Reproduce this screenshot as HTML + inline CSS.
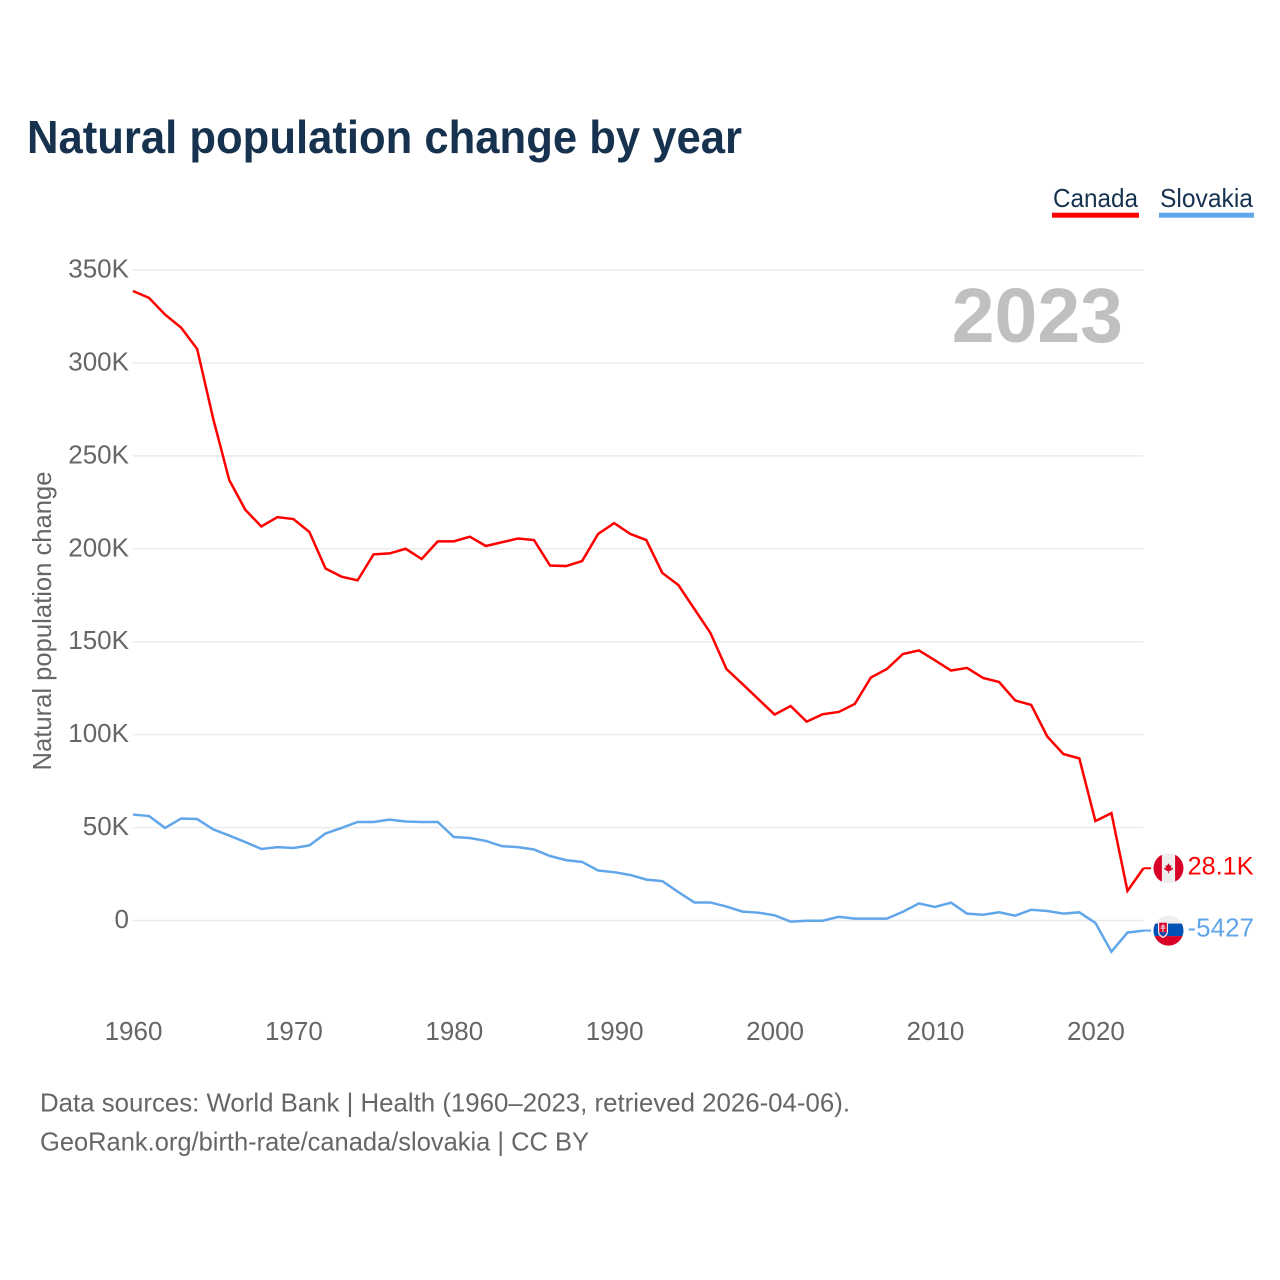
<!DOCTYPE html>
<html lang="en">
<head>
<meta charset="utf-8">
<title>Natural population change by year</title>
<style>
html,body{margin:0;padding:0;background:#fff;}
svg{display:block;font-family:"Liberation Sans",sans-serif;}
</style>
</head>
<body>
<svg id="chart" xmlns="http://www.w3.org/2000/svg" width="1280" height="1280" viewBox="0 0 1280 1280">
  <defs>
    <clipPath id="flag-clip"><circle cx="0" cy="0" r="15"/></clipPath>
  </defs>
  <rect x="0" y="0" width="1280" height="1280" fill="#fff"/>
  <text x="27" y="153" font-size="46" font-weight="700" fill="#17324f" textLength="715" lengthAdjust="spacingAndGlyphs">Natural population change by year</text>

  <g>
    <g>
      <text x="1053" y="207" font-size="26" fill="#17324f" textLength="85" lengthAdjust="spacingAndGlyphs">Canada</text>
      <rect x="1052" y="212.7" width="87" height="5" fill="#ff0000"/>
    </g>
    <g>
      <text x="1160" y="207" font-size="26" fill="#17324f" textLength="93" lengthAdjust="spacingAndGlyphs">Slovakia</text>
      <rect x="1159" y="212.7" width="95" height="5" fill="#62a6ea"/>
    </g>
  </g>

  <g id="grid"></g>
  <g id="y-ticks"></g>
  <g id="x-ticks"></g>

  <text x="1123" y="342" text-anchor="end" font-size="77" font-weight="700" fill="#c0c0c0">2023</text>
  <text transform="translate(51 621) rotate(-90)" text-anchor="middle" font-size="26" fill="#666" textLength="299" lengthAdjust="spacingAndGlyphs">Natural population change</text>

  <g id="series"></g>

  <g id="flag-canada">
    <g clip-path="url(#flag-clip)">
      <rect x="-15" y="-15" width="30" height="30" fill="#eeeeee"/>
      <rect x="-15" y="-15" width="8.4" height="30" fill="#d80027"/>
      <rect x="6.6" y="-15" width="8.4" height="30" fill="#d80027"/>
      <polygon points="0,-5 1.5,-2.5 3,-3 2.4,0 4.5,-0.6 4,1.2 1,3 0.4,2.4 0.4,5 -0.4,5 -0.4,2.4 -1,3 -4,1.2 -4.5,-0.6 -2.4,0 -3,-3 -1.5,-2.5" fill="#d80027"/>
    </g>
  </g>
  <g id="flag-slovakia">
    <g clip-path="url(#flag-clip)">
      <rect x="-15" y="-15" width="30" height="30" fill="#eeeeee"/>
      <rect x="-15" y="-7" width="30" height="12.5" fill="#0052b4"/>
      <rect x="-15" y="5.5" width="30" height="10" fill="#d80027"/>
      <path d="M-10.5,-9 H-0.5 V1 Q-0.5,5 -5.5,7.5 Q-10.5,5 -10.5,1 Z" fill="#eeeeee"/>
      <path d="M-9.3,-7.8 H-1.7 V0.8 Q-1.7,4 -5.5,6 Q-9.3,4 -9.3,0.8 Z" fill="#d80027"/>
      <path d="M-6,-6.5 H-5 V-5 H-3.4 V-4 H-5 V-3 H-3 V-2 H-5 V1.5 H-6 V-2 H-8 V-3 H-6 V-4 H-7.6 V-5 H-6 Z" fill="#eeeeee"/>
      <path d="M-9,2 Q-7.5,0.5 -5.5,2 Q-3.5,0.5 -2,2 Q-2.5,4 -5.5,5.6 Q-8.5,4 -9,2 Z" fill="#0052b4"/>
    </g>
  </g>

  <text id="value-canada" x="1253.5" text-anchor="end" font-size="25.2" fill="#ff0000"></text>
  <text id="value-slovakia" x="1254" text-anchor="end" font-size="26" fill="#62a6ea"></text>

  <text x="40" y="1111.7" font-size="26" fill="#666" textLength="810" lengthAdjust="spacingAndGlyphs">Data sources: World Bank | Health (1960–2023, retrieved 2026-04-06).</text>
  <text x="40" y="1150.5" font-size="26" fill="#666" textLength="549" lengthAdjust="spacingAndGlyphs">GeoRank.org/birth-rate/canada/slovakia | CC BY</text>
</svg>

<script>
const startYear = 1960;
const canadaValues = [338.7,335,326,319,307.5,270,237,221,212,217,216,209,189.4,185,183,197,197.5,200,194.5,204,204,206.5,201.5,203.5,205.5,204.7,191,190.7,193.4,208,213.8,208,204.7,187,180.5,167.6,154.7,135.3,127.2,119,110.8,115.4,107,111,112.2,116.5,130.7,135.3,143.4,145.3,140,134.5,135.9,130.5,128.3,118.4,116,99,89.6,87.2,53.5,57.8,15.9,28.1];
const slovakiaValues = [57,56.2,49.8,54.9,54.6,49,45.7,42.2,38.5,39.5,39,40.4,46.8,49.8,53,53,54.3,53.3,53,53,44.9,44.4,42.8,40,39.5,38.2,34.7,32.5,31.5,26.9,26,24.5,22,21.2,15.3,9.7,9.7,7.5,4.8,4.2,2.8,-0.6,-0.1,-0.1,2,1,1,1,4.7,9.2,7.3,9.6,3.7,3.1,4.4,2.6,5.8,5.1,3.7,4.4,-1.3,-16.8,-6.5,-5.427];
const yTickValues = [0,50,100,150,200,250,300,350];
const yTickLabels = ["0","50K","100K","150K","200K","250K","300K","350K"];
const xTickYears = [1960,1970,1980,1990,2000,2010,2020];
const xTickLabels = ["1960","1970","1980","1990","2000","2010","2020"];

const NS = "http://www.w3.org/2000/svg";
const plotLeft = 133, plotRight = 1143.5, zeroY = 920.5, pxPerUnit = 1.8586, flagX = 1168.5;
const lastYear = startYear + canadaValues.length - 1;
function xScale(year){ return plotLeft + (year - startYear) * (plotRight - plotLeft) / (lastYear - startYear); }
function yScale(v){ return zeroY - v * pxPerUnit; }
function formatValue(v){
  if (Math.abs(v) >= 10) return (Math.round(v * 10) / 10).toFixed(1) + "K";
  return String(Math.round(v * 1000));
}
function make(tag, attrs, parent){
  const el = document.createElementNS(NS, tag);
  for (const k in attrs) el.setAttribute(k, attrs[k]);
  parent.appendChild(el);
  return el;
}

const gridGroup = document.getElementById("grid");
const yGroup = document.getElementById("y-ticks");
yTickValues.forEach(function(v, i){
  const line = make("line", {x1: plotLeft, x2: plotRight, y1: yScale(v), y2: yScale(v), stroke: "#ebebeb", "stroke-width": 1.5}, gridGroup);
  
  
  const label = make("text", {x: 129, y: yScale(v) + 7.5, "text-anchor": "end", "font-size": 26, fill: "#666"}, yGroup);
  
  
  label.textContent = yTickLabels[i];
});

const xGroup = document.getElementById("x-ticks");
xTickYears.forEach(function(year, i){
  const label = make("text", {x: xScale(year) + 0.5, y: 1040, "text-anchor": "middle", "font-size": 26, fill: "#666"}, xGroup);
  
  
  label.textContent = xTickLabels[i];
});

function linePoints(values){
  const pts = values.map(function(v, i){ return xScale(startYear + i).toFixed(2) + "," + yScale(v).toFixed(2); });
  return pts.join(" ");
}
const seriesGroup = document.getElementById("series");

const canadaLine = make("polyline", {points: linePoints(canadaValues), fill: "none", stroke: "#ff0000", "stroke-width": 2.5, "stroke-linejoin": "miter"}, seriesGroup);



const slovakiaLine = make("polyline", {points: linePoints(slovakiaValues), fill: "none", stroke: "#62a6ea", "stroke-width": 2.5, "stroke-linejoin": "miter"}, seriesGroup);



const canadaLast = canadaValues[canadaValues.length - 1];
const slovakiaLast = slovakiaValues[slovakiaValues.length - 1];

const canadaConnector = make("line", {x1: plotRight, x2: 1151, y1: yScale(canadaLast), y2: yScale(canadaLast), stroke: "#ff0000", "stroke-width": 2}, seriesGroup);



const slovakiaConnector = make("line", {x1: plotRight, x2: 1151, y1: yScale(slovakiaLast), y2: yScale(slovakiaLast), stroke: "#62a6ea", "stroke-width": 2}, seriesGroup);



document.getElementById("flag-canada").setAttribute("transform", "translate(" + flagX + " " + yScale(canadaLast) + ")");
document.getElementById("flag-slovakia").setAttribute("transform", "translate(" + flagX + " " + yScale(slovakiaLast) + ")");

const canadaValue = document.getElementById("value-canada");
canadaValue.setAttribute("y", yScale(canadaLast) + 6);
canadaValue.textContent = formatValue(canadaLast);
const slovakiaValue = document.getElementById("value-slovakia");
slovakiaValue.setAttribute("y", yScale(slovakiaLast) + 6);
slovakiaValue.textContent = formatValue(slovakiaLast);
</script>
</body>
</html>
